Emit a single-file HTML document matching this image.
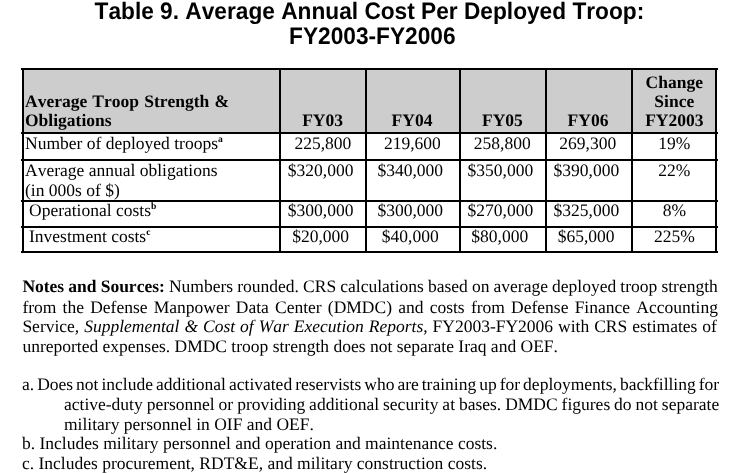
<!DOCTYPE html>
<html><head><meta charset="utf-8"><title>Table 9</title>
<style>
html,body{margin:0;padding:0;background:#fff;}
body{filter:grayscale(1);}
body{font-kerning:none;font-variant-ligatures:none;text-rendering:geometricPrecision;width:730px;height:473px;position:relative;overflow:hidden;font-family:"Liberation Serif",serif;color:#000;}
.t{position:absolute;white-space:nowrap;line-height:20px;font-size:17.5px;}
.title{font-family:"Liberation Sans",sans-serif;font-weight:bold;font-size:22.7px;line-height:26px;text-align:center;left:21.4px;width:696px;transform:scaleY(1.05);transform-origin:0 20.86px;}
.b{font-weight:bold;}
.c{text-align:center;}
.j{text-align:justify;text-align-last:justify;white-space:normal;}
.ln{position:absolute;background:#000;}
sup{font-size:9.6px;line-height:0;vertical-align:baseline;position:relative;top:-7px;font-weight:bold;}
#hdr{position:absolute;left:22px;top:68px;width:695px;height:65px;background:#cdcdcd;}
</style></head><body>
<div class="t title" style="top:-2px;">Table 9. Average Annual Cost Per Deployed Troop:</div>
<div class="t title" style="top:23px;left:24.3px;">FY2003-FY2006</div>

<div id="hdr"></div>
<!-- horizontal lines -->
<div class="ln" style="left:21px;top:68px;width:697px;height:2px;"></div>
<div class="ln" style="left:21px;top:132px;width:697px;height:2px;"></div>
<div class="ln" style="left:21px;top:159px;width:697px;height:2px;"></div>
<div class="ln" style="left:21px;top:200px;width:697px;height:2px;"></div>
<div class="ln" style="left:21px;top:226px;width:697px;height:2px;"></div>
<div class="ln" style="left:21px;top:251px;width:697px;height:2px;"></div>
<!-- vertical lines -->
<div class="ln" style="left:22px;top:68px;width:2px;height:185px;"></div>
<div class="ln" style="left:279px;top:68px;width:2px;height:185px;"></div>
<div class="ln" style="left:365px;top:68px;width:2px;height:185px;"></div>
<div class="ln" style="left:459px;top:68px;width:2px;height:185px;"></div>
<div class="ln" style="left:545px;top:68px;width:2px;height:185px;"></div>
<div class="ln" style="left:631px;top:68px;width:2px;height:185px;"></div>
<div class="ln" style="left:715px;top:68px;width:2px;height:185px;"></div>

<!-- header -->
<div class="t b" style="left:25px;top:91px;word-spacing:0.8px;">Average Troop Strength &amp;</div>
<div class="t b" style="left:25px;top:110px;">Obligations</div>
<div class="t b c" style="left:280.1px;width:85px;top:110px;">FY03</div>
<div class="t b c" style="left:366px;width:92px;top:110px;">FY04</div>
<div class="t b c" style="left:460.4px;width:84px;top:110px;">FY05</div>
<div class="t b c" style="left:546px;width:84px;top:110px;">FY06</div>
<div class="t b c" style="left:632.8px;width:83px;top:72px;">Change</div>
<div class="t b c" style="left:632.8px;width:83px;top:91px;">Since</div>
<div class="t b c" style="left:632.8px;width:83px;top:110px;">FY2003</div>

<!-- row 1 -->
<div class="t" style="left:25px;top:133px;">Number of deployed troops<sup>a</sup></div>
<div class="t c" style="left:280.35px;width:85px;top:133px;">225,800</div>
<div class="t c" style="left:366.4px;width:92px;top:133px;">219,600</div>
<div class="t c" style="left:460.3px;width:84px;top:133px;">258,800</div>
<div class="t c" style="left:545.8px;width:84px;top:133px;">269,300</div>
<div class="t c" style="left:632.8px;width:83px;top:133px;">19%</div>
<!-- row 2 -->
<div class="t" style="left:25px;top:160px;">Average annual obligations</div>
<div class="t" style="left:25px;top:180px;">(in 000s of $)</div>
<div class="t c" style="left:278.1px;width:85px;top:160px;">$320,000</div>
<div class="t c" style="left:364.3px;width:92px;top:160px;">$340,000</div>
<div class="t c" style="left:458.4px;width:84px;top:160px;">$350,000</div>
<div class="t c" style="left:544.4px;width:84px;top:160px;">$390,000</div>
<div class="t c" style="left:632.8px;width:83px;top:160px;">22%</div>
<!-- row 3 -->
<div class="t" style="left:29px;top:199.5px;">Operational costs<sup>b</sup></div>
<div class="t c" style="left:278.1px;width:85px;top:199.5px;">$300,000</div>
<div class="t c" style="left:364.3px;width:92px;top:199.5px;">$300,000</div>
<div class="t c" style="left:458.4px;width:84px;top:199.5px;">$270,000</div>
<div class="t c" style="left:544.4px;width:84px;top:199.5px;">$325,000</div>
<div class="t c" style="left:632.8px;width:83px;top:199.5px;">8%</div>
<!-- row 4 -->
<div class="t" style="left:29px;top:225.8px;">Investment costs<sup>c</sup></div>
<div class="t c" style="left:278.1px;width:85px;top:225.8px;">$20,000</div>
<div class="t c" style="left:364.3px;width:92px;top:225.8px;">$40,000</div>
<div class="t c" style="left:457.8px;width:84px;top:225.8px;">$80,000</div>
<div class="t c" style="left:544.1px;width:84px;top:225.8px;">$65,000</div>
<div class="t c" style="left:632.8px;width:83px;top:225.8px;">225%</div>

<!-- notes -->
<div class="t" style="word-spacing:-0.25px;left:22.4px;top:276.3px;"><b>Notes and Sources:</b> Numbers rounded. CRS calculations based on average deployed troop strength</div>
<div class="t" style="word-spacing:1.83px;left:22.4px;top:296.5px;">from the Defense Manpower Data Center (DMDC) and costs from Defense Finance Accounting</div>
<div class="t" style="word-spacing:0.6px;left:22.4px;top:316px;">Service, <i>Supplemental &amp; Cost of War Execution Reports</i>, FY2003-FY2006 with CRS estimates of</div>
<div class="t" style="left:22.4px;top:336.2px;">unreported expenses. DMDC troop strength does not separate Iraq and OEF.</div>

<div class="t" style="word-spacing:-1.37px;left:22px;top:374px;">a. Does not include additional activated reservists who are training up for deployments, backfilling for</div>
<div class="t" style="word-spacing:-0.44px;left:64px;top:394.2px;">active-duty personnel or providing additional security at bases. DMDC figures do not separate</div>
<div class="t" style="left:64px;top:414.2px;">military personnel in OIF and OEF.</div>
<div class="t" style="left:22px;top:433.3px;">b. Includes military personnel and operation and maintenance costs.</div>
<div class="t" style="left:22px;top:453.4px;">c. Includes procurement, RDT&amp;E, and military construction costs.</div>
</body></html>
